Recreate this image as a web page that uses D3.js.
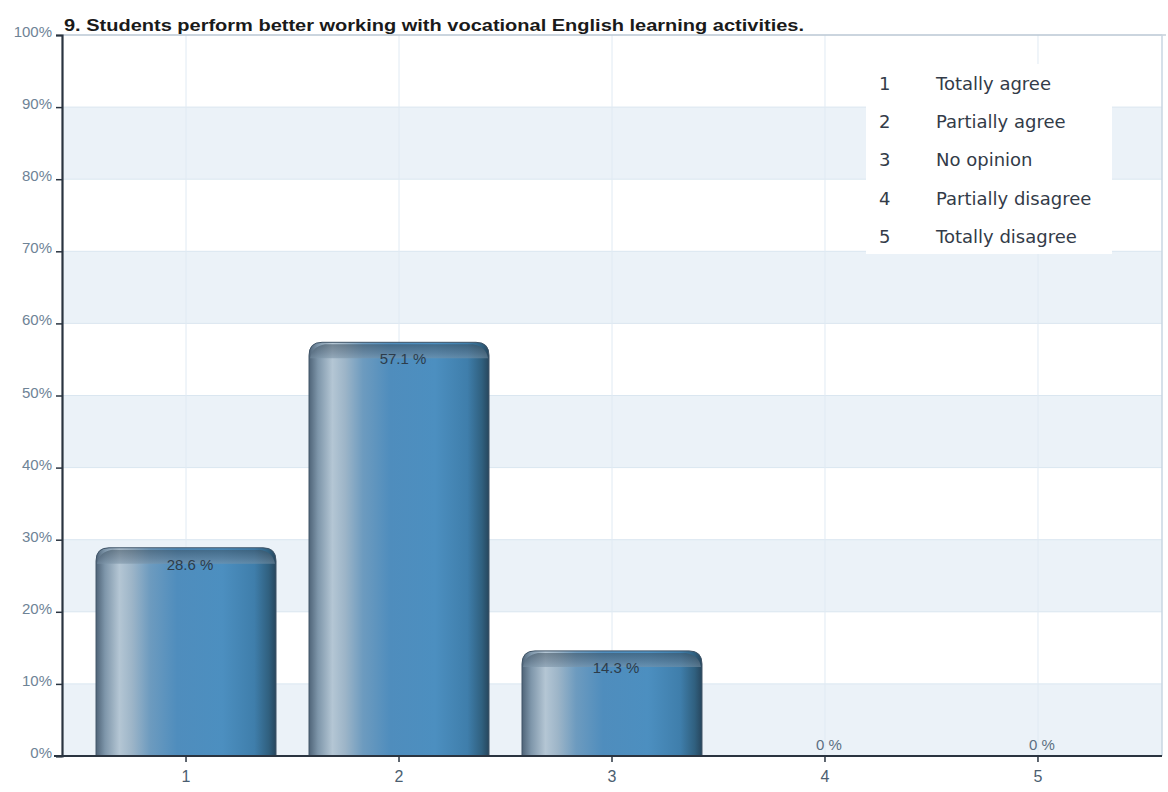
<!DOCTYPE html>
<html><head><meta charset="utf-8">
<script src="https://cdn.jsdelivr.net/npm/d3@7"></script>
<style>body{margin:0;background:#fff;}svg{display:block;}</style>
</head><body>
<svg id="c" width="1168" height="792"></svg>
<script>
const title = "9. Students perform better working with vocational English learning activities.";
const categories = ["1","2","3","4","5"];
const values = [28.6, 57.1, 14.3, 0, 0];
const valueLabels = ["28.6 %","57.1 %","14.3 %","0 %","0 %"];
const legendLabels = ["Totally agree","Partially agree","No opinion","Partially disagree","Totally disagree"];
const yTicks = [0,10,20,30,40,50,60,70,80,90,100];

const svg = d3.select("#c");
const L = 62, R = 1162, T = 35, B = 756;
const x = d3.scaleBand().domain(categories).range([79, 1145]).paddingInner(0.155).paddingOuter(0.08);
const y = d3.scaleLinear().domain([0,100]).range([B, T]);

const defs = svg.append("defs");
const g = defs.append("linearGradient").attr("id","barg").attr("x1","0").attr("x2","1").attr("y1","0").attr("y2","0");
[[0,"#4f6478"],[0.05,"#7e96aa"],[0.13,"#b4c6d4"],[0.2,"#9db5c8"],[0.3,"#6d9bbf"],[0.45,"#4f8dbd"],[0.7,"#4c8fc0"],[0.88,"#3f7eab"],[0.96,"#30607f"],[1,"#27465d"]]
  .forEach(([o,c])=>g.append("stop").attr("offset",o).attr("stop-color",c));
const gt = defs.append("linearGradient").attr("id","capg").attr("x1","0").attr("x2","0").attr("y1","0").attr("y2","1");
[[0,"#3a4d5c"],[0.6,"#5f7487"],[1,"#7b93a6"]].forEach(([o,c])=>gt.append("stop").attr("offset",o).attr("stop-color",c));

// background bands
const bands = [[80,90],[60,70],[40,50],[20,30],[0,10]];
svg.append("g").selectAll("rect").data(bands).join("rect")
  .attr("x", L).attr("width", R-L)
  .attr("y", d=>y(d[1])).attr("height", d=>y(d[0])-y(d[1]))
  .attr("fill","#ebf2f8");
// grid lines
svg.append("g").selectAll("line").data(yTicks.slice(1)).join("line")
  .attr("x1",L).attr("x2",R).attr("y1",d=>y(d)).attr("y2",d=>y(d))
  .attr("stroke","#dae6f0").attr("stroke-width",1);
svg.append("g").selectAll("line").data(categories).join("line")
  .attr("x1",d=>x(d)+x.bandwidth()/2).attr("x2",d=>x(d)+x.bandwidth()/2).attr("y1",T).attr("y2",B)
  .attr("stroke","#e0eaf3");
// top & right border
svg.append("line").attr("x1",L).attr("x2",R+4).attr("y1",T).attr("y2",T).attr("stroke","#a9b8c6").attr("stroke-width",1.2);
svg.append("line").attr("x1",R).attr("x2",R).attr("y1",T).attr("y2",B).attr("stroke","#c8d6e2").attr("stroke-width",1.5);

// legend box
svg.append("rect").attr("x",866).attr("y",64).attr("width",246).attr("height",190).attr("fill","#ffffff");
const lg = svg.append("g").attr("font-family","DejaVu Sans, Verdana, sans-serif").attr("font-size",18).attr("fill","#333b48");
legendLabels.forEach((t,i)=>{
  lg.append("text").attr("x",879).attr("y",90+i*38.2).text(categories[i]);
  lg.append("text").attr("x",936).attr("y",90+i*38.2).text(t);
});

// bars
const r = 13;
function barPath(x0, w, yTop, yBot){
  const h = yBot - yTop;
  const rr = Math.min(r, h/2, w/2);
  return `M${x0},${yBot} L${x0},${yTop+rr} Q${x0},${yTop} ${x0+rr},${yTop} L${x0+w-rr},${yTop} Q${x0+w},${yTop} ${x0+w},${yTop+rr} L${x0+w},${yBot} Z`;
}
const bars = svg.append("g");
values.forEach((v,i)=>{
  if(v<=0) return;
  const x0 = x(categories[i]), w = x.bandwidth(), yt = y(v);
  bars.append("path").attr("d", barPath(x0,w,yt-2,B)).attr("fill","url(#barg)").attr("stroke","#3e5366").attr("stroke-width",1);
  bars.append("path").attr("d", `M${x0+1},${yt+14} Q${x0+3},${yt+2} ${x0+16},${yt} L${x0+w-16},${yt} Q${x0+w-3},${yt+2} ${x0+w-1},${yt+14} Z`)
    .attr("fill","url(#capg)").attr("opacity",0.55);
});
// value labels
svg.append("g").selectAll("text").data(values).join("text")
  .attr("x",(d,i)=>x(categories[i])+x.bandwidth()/2 + 4)
  .attr("y",d=> d>0 ? y(d)+20 : B-6)
  .attr("text-anchor","middle")
  .attr("font-family","Liberation Sans, Arial, sans-serif").attr("font-size",15)
  .attr("fill",d=>d>0?"#2d3c4a":"#5b6f82")
  .text((d,i)=>valueLabels[i]);

// axes
const ya = svg.append("g").attr("transform",`translate(${L},0)`)
  .call(d3.axisLeft(y).tickValues(yTicks).tickFormat(d=>d+"%").tickSize(6));
ya.select(".domain").attr("stroke","#2a3440").attr("stroke-width",2.2);
ya.selectAll(".tick line").attr("stroke","#2a3440").attr("stroke-width",1.5);
ya.selectAll("text").attr("font-family","Liberation Sans, Arial, sans-serif").attr("font-size",15).attr("fill","#6e8396").attr("x",-10).attr("dy","0.1em");

const xa = svg.append("g").attr("transform",`translate(0,${B})`)
  .call(d3.axisBottom(x).tickSize(6).tickSizeOuter(0));
xa.select(".domain").attr("d",`M${L-8},0H${R}`).attr("stroke","#2a3440").attr("stroke-width",2);
xa.selectAll(".tick line").attr("stroke","#2a3440").attr("stroke-width",1.5);
xa.selectAll("text").attr("font-family","Liberation Sans, Arial, sans-serif").attr("font-size",16).attr("fill","#4b5e70").attr("dy","1.05em");

// title
svg.append("text").attr("x",64).attr("y",31).attr("font-family","Liberation Sans, Arial, sans-serif")
  .attr("font-weight","bold").attr("font-size",16).attr("fill","#1a1a1a")
  .attr("textLength",740).attr("lengthAdjust","spacingAndGlyphs").text(title);
</script>
</body></html>
